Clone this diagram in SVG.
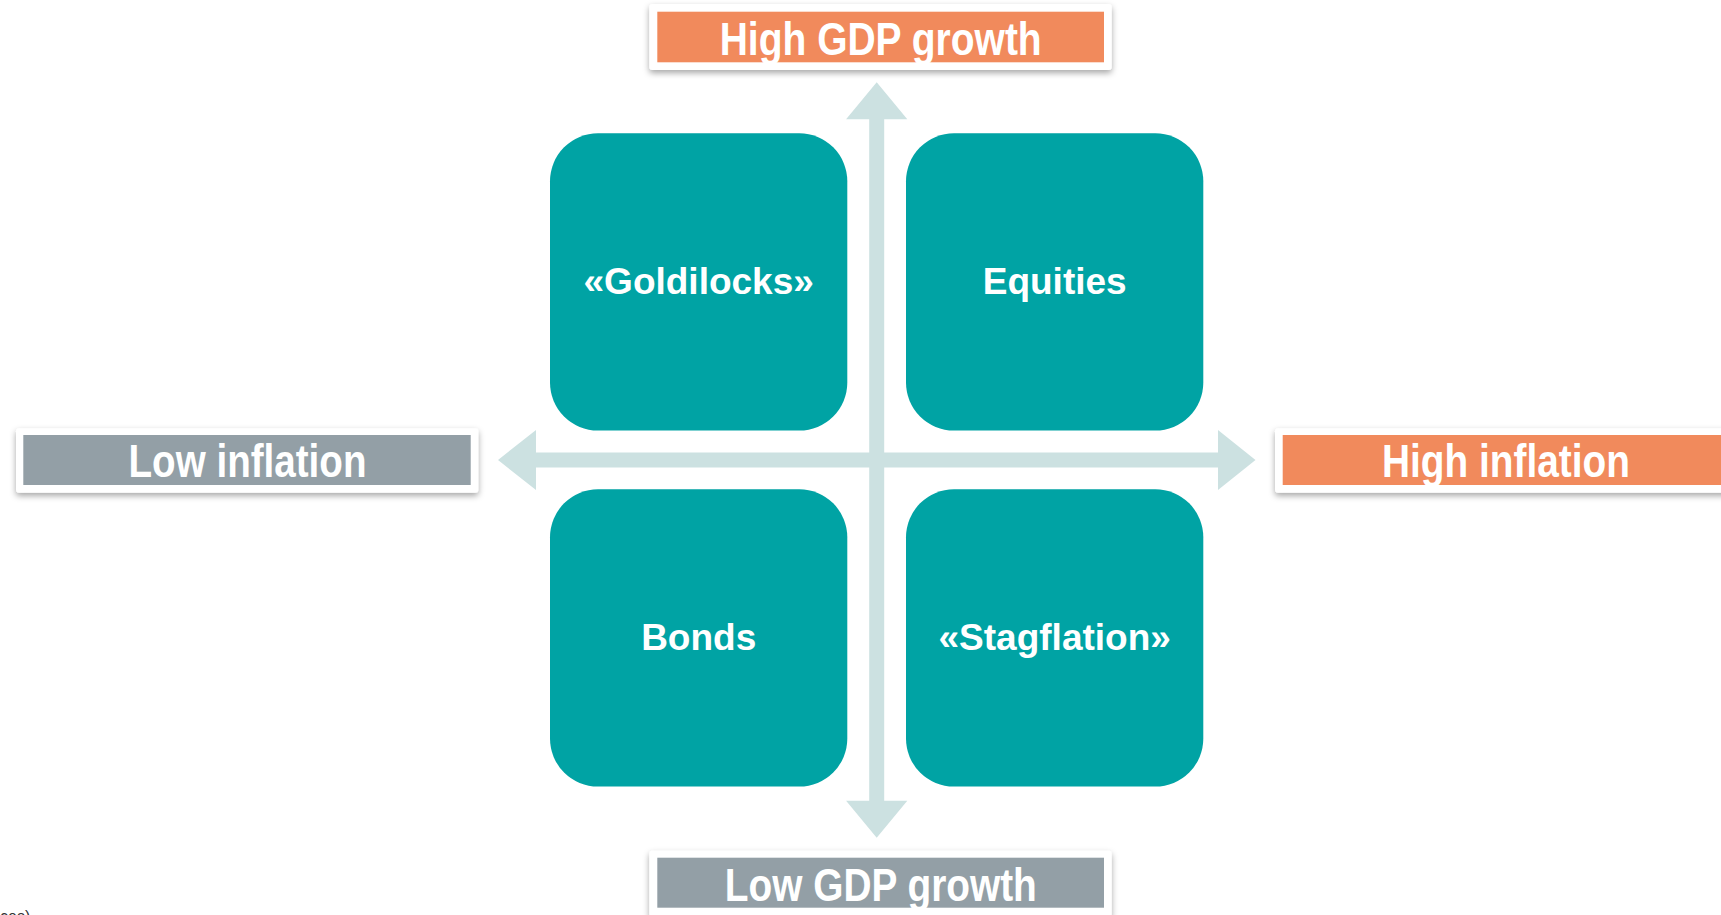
<svg xmlns="http://www.w3.org/2000/svg" width="1721" height="915" viewBox="0 0 1721 915">
  <style>
    .frame { fill: #ffffff; filter: url(#shadow); }
    .orange { fill: #F18A5C; }
    .gray { fill: #939FA6; }
    .label { font-family: "Liberation Sans Narrow", "Liberation Sans", Arial, sans-serif; font-weight: bold; font-size: 46px; fill: #ffffff; text-anchor: middle; }
    .box { fill: #00A3A4; }
    .boxtext { font-family: "Liberation Sans", Arial, sans-serif; font-weight: bold; font-size: 37px; fill: #ffffff; text-anchor: middle; }
    .arrow { fill: #CCE1E1; }
    .note { font-family: "Liberation Sans", Arial, sans-serif; font-size: 16px; fill: #333333; }
  </style>
  <defs>
    <filter id="shadow" x="-5%" y="-20%" width="110%" height="150%">
      <feDropShadow dx="0" dy="3" stdDeviation="3" flood-color="#000000" flood-opacity="0.35"/>
    </filter>
  </defs>
  <rect width="1721" height="915" fill="#ffffff"/>

  <g id="connectors">
    <polygon class="arrow" points="876.7,82.3 907.3,119.3 884.2,119.3 884.2,800.7 907.3,800.7 876.7,837.7 846.1,800.7 869.2,800.7 869.2,119.3 846.1,119.3"/>
    <polygon class="arrow" points="498,460 536,430 536,452.5 1218,452.5 1218,430 1255.5,460 1218,490 1218,467.5 536,467.5 536,490"/>
  </g>

  <g id="high-gdp">
    <rect class="frame" x="649.3" y="4" width="462.4" height="66" rx="3"/>
    <rect class="orange" x="657.3" y="11.7" width="446.7" height="50.6"/>
    <text class="label" x="880.7" y="55" textLength="322" lengthAdjust="spacingAndGlyphs">High GDP growth</text>
  </g>

  <g id="low-inflation">
    <rect class="frame" x="16" y="428.3" width="462.3" height="64.4" rx="3"/>
    <rect class="gray" x="23.3" y="435" width="447.4" height="50"/>
    <text class="label" x="247.5" y="477" textLength="238" lengthAdjust="spacingAndGlyphs">Low inflation</text>
  </g>

  <g id="high-inflation">
    <rect class="frame" x="1275" y="428.3" width="462.3" height="64.4" rx="3"/>
    <rect class="orange" x="1282.7" y="435" width="447.4" height="50"/>
    <text class="label" x="1506" y="477" textLength="248" lengthAdjust="spacingAndGlyphs">High inflation</text>
  </g>

  <g id="low-gdp">
    <rect class="frame" x="649.3" y="850.7" width="462.4" height="66" rx="3"/>
    <rect class="gray" x="657.3" y="857.7" width="446.7" height="50"/>
    <text class="label" x="880.8" y="901" textLength="312" lengthAdjust="spacingAndGlyphs">Low GDP growth</text>
  </g>

  <g id="goldilocks">
    <rect class="box" x="550" y="133.3" width="297.3" height="297.3" rx="48"/>
    <text class="boxtext" x="698.7" y="294">«Goldilocks»</text>
  </g>

  <g id="equities">
    <rect class="box" x="906" y="133.3" width="297.3" height="297.3" rx="48"/>
    <text class="boxtext" x="1054.7" y="294">Equities</text>
  </g>

  <g id="bonds">
    <rect class="box" x="550" y="489.3" width="297.3" height="297.3" rx="48"/>
    <text class="boxtext" x="698.7" y="650">Bonds</text>
  </g>

  <g id="stagflation">
    <rect class="box" x="906" y="489.3" width="297.3" height="297.3" rx="48"/>
    <text class="boxtext" x="1054.7" y="650">«Stagflation»</text>
  </g>

  <text class="note" x="0" y="922">ces)</text>
</svg>
